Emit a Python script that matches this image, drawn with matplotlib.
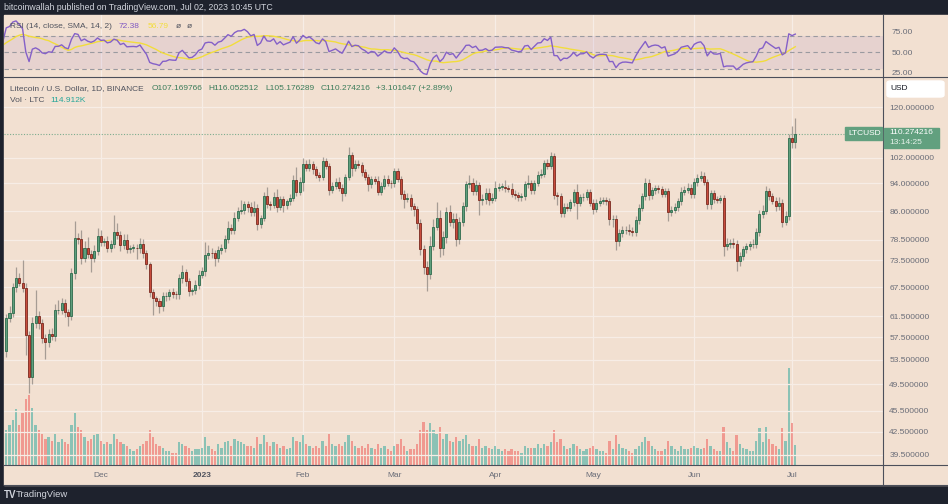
import numpy as np
import pandas as pd
import matplotlib
matplotlib.use("Agg")
import matplotlib.pyplot as plt
from matplotlib.lines import Line2D
from matplotlib.patches import Rectangle, FancyBboxPatch

plt.rcParams['font.family'] = ['Liberation Sans', 'DejaVu Sans']

# ---- data (LTC/USD daily, Nov 2 2022 .. Jul 2 2023) ----
# closes before the visible window, only used to warm up the RSI
warmup_closes = [52.0, 51.5, 52.8, 52.3, 51.8, 51.4, 51.2, 51.6, 51.0, 50.6,
                 51.4, 50.9, 51.7, 52.0, 51.4, 50.7, 50.5, 51.3, 51.9, 51.6,
                 53.1, 53.6, 53.4, 52.9, 54.0, 54.6, 53.8, 54.2, 55.6, 55.0]

closes = [61.1, 62.2, 67.5, 69.4, 68.5, 67.4, 57.9, 50.6, 60.2, 61.5,
          60.1, 57.4, 56.7, 58.2, 57.8, 62.7, 62.8, 64.1, 62.3, 61.6,
          70.7, 79.1, 78.6, 74.2, 76.6, 75.0, 74.2, 75.8, 79.6, 78.0,
          78.3, 76.6, 77.4, 80.4, 79.8, 77.3, 78.4, 76.3, 76.5, 76.6,
          76.4, 77.6, 75.2, 72.6, 66.4, 65.2, 64.6, 63.6, 65.6, 65.7,
          66.4, 66.1, 66.0, 69.5, 70.8, 68.8, 66.6, 66.8, 68.0, 70.2,
          71.0, 74.8, 75.3, 75.2, 74.1, 76.0, 76.6, 78.8, 81.6, 81.0,
          84.3, 86.2, 86.3, 88.0, 87.2, 85.8, 87.0, 82.6, 84.3, 90.4,
          88.0, 87.8, 90.0, 87.3, 89.4, 87.7, 88.8, 89.8, 95.0, 91.5,
          94.4, 100.2, 98.7, 100.0, 98.5, 96.6, 96.0, 100.9, 99.3, 92.2,
          93.4, 94.6, 92.8, 91.3, 96.0, 102.9, 98.7, 100.2, 99.8, 97.4,
          96.0, 93.8, 95.3, 94.8, 91.6, 93.4, 95.5, 94.2, 94.1, 97.7,
          95.4, 91.0, 89.5, 89.8, 87.4, 86.6, 82.8, 76.3, 71.9, 70.3,
          77.0, 81.9, 84.3, 76.4, 79.2, 85.8, 83.0, 84.0, 78.6, 83.0,
          87.5, 93.8, 94.2, 91.7, 93.5, 89.3, 89.5, 91.2, 89.2, 89.8,
          92.8, 93.0, 93.1, 92.6, 92.5, 91.0, 90.5, 89.9, 90.3, 93.8,
          94.2, 92.0, 94.2, 96.7, 97.0, 100.3, 99.5, 102.5, 90.5, 90.3,
          85.5, 87.3, 87.0, 88.6, 91.4, 88.4, 90.0, 90.1, 91.4, 88.4,
          86.7, 88.4, 89.0, 89.1, 88.8, 83.8, 83.9, 78.1, 80.2, 81.0,
          81.1, 80.7, 80.4, 83.6, 87.0, 90.2, 94.2, 90.6, 92.0, 92.6,
          92.3, 90.9, 91.8, 85.8, 86.5, 87.2, 88.8, 91.6, 92.2, 92.8,
          90.8, 94.4, 95.8, 96.4, 94.5, 88.1, 91.2, 89.4, 89.2, 89.7,
          77.1, 77.6, 77.6, 77.5, 73.3, 74.6, 76.2, 77.0, 77.4, 77.6,
          80.5, 85.3, 86.2, 91.8, 90.3, 88.9, 87.5, 88.4, 83.2, 84.7,
          108.7, 107.169766, 110.274216]

# distance from body top to high / body bottom to low
upper_wick = [0.8, 1.4, 1.0, 2.6, 1.2, 5.0, 1.0, 0.8, 1.2, 5.3,
              1.0, 0.8, 0.8, 0.9, 1.0, 1.3, 2.0, 1.2, 0.8, 0.6,
              1.0, 4.3, 1.2, 2.5, 1.5, 2.6, 1.0, 1.5, 2.0, 1.4,
              0.8, 1.2, 1.0, 4.6, 2.5, 1.0, 1.6, 1.5, 0.8, 1.0,
              0.8, 1.5, 1.2, 0.8, 0.6, 0.7, 0.5, 0.6, 0.9, 0.8,
              0.8, 1.0, 0.6, 1.0, 1.6, 0.8, 0.6, 0.6, 1.0, 1.0,
              1.0, 3.2, 2.0, 1.2, 0.8, 1.0, 0.8, 0.9, 1.9, 1.0,
              1.5, 1.0, 3.0, 1.0, 1.0, 1.5, 2.0, 1.0, 0.8, 1.2,
              2.5, 1.0, 1.5, 2.5, 1.0, 1.0, 0.8, 1.0, 1.5, 4.0,
              1.5, 1.8, 1.2, 1.5, 1.0, 1.0, 1.0, 1.5, 1.0, 1.0,
              1.2, 1.2, 1.5, 1.0, 1.0, 2.6, 1.0, 1.0, 1.0, 1.0,
              1.2, 1.0, 1.0, 1.0, 1.5, 1.0, 1.0, 1.0, 1.0, 1.2,
              1.0, 1.0, 1.0, 1.5, 1.0, 1.0, 0.8, 1.0, 1.0, 1.5,
              2.5, 2.0, 4.4, 2.0, 1.5, 1.5, 2.0, 1.5, 1.5, 1.5,
              1.2, 1.0, 2.5, 1.5, 1.5, 1.0, 1.5, 1.5, 1.5, 1.5,
              2.0, 1.0, 1.0, 2.0, 1.0, 1.5, 1.0, 1.0, 1.0, 1.0,
              2.5, 1.0, 1.0, 1.0, 1.5, 1.0, 1.5, 1.3, 1.0, 1.0,
              1.0, 1.0, 1.0, 1.0, 1.0, 2.5, 1.0, 1.0, 1.0, 1.0,
              1.0, 1.0, 1.0, 1.0, 1.0, 1.0, 1.0, 1.0, 1.0, 1.0,
              1.0, 1.5, 1.0, 1.0, 1.0, 1.0, 1.5, 1.2, 1.0, 1.0,
              1.0, 1.0, 1.0, 1.0, 1.0, 1.0, 1.0, 1.5, 1.0, 1.5,
              1.0, 1.2, 1.0, 1.5, 1.0, 1.0, 1.0, 1.0, 1.0, 1.0,
              1.0, 1.5, 1.0, 1.5, 1.0, 1.0, 0.8, 0.8, 0.8, 1.0,
              1.0, 1.0, 1.5, 1.5, 1.0, 1.0, 1.0, 1.5, 1.0, 1.5,
              1.5, 4.4, 5.778]

lower_wick = [1.0, 0.8, 0.8, 1.0, 0.8, 1.0, 3.5, 2.4, 1.0, 1.0,
              1.0, 1.0, 3.0, 1.0, 0.8, 1.0, 0.8, 0.8, 1.0, 2.0,
              0.8, 1.5, 1.0, 1.5, 1.0, 1.0, 3.3, 1.0, 1.0, 1.0,
              1.0, 1.0, 1.0, 1.0, 1.0, 1.5, 1.0, 1.0, 1.0, 1.0,
              2.5, 1.0, 1.0, 1.0, 1.0, 3.4, 1.0, 1.5, 1.0, 1.0,
              1.0, 1.0, 1.0, 1.0, 1.0, 1.0, 1.0, 0.8, 0.8, 0.8,
              0.8, 1.0, 1.0, 1.0, 1.8, 1.0, 1.0, 1.0, 1.0, 1.0,
              1.0, 1.0, 1.0, 1.0, 1.5, 1.2, 1.0, 1.5, 1.0, 1.0,
              1.0, 1.5, 1.0, 1.5, 1.0, 2.0, 1.0, 1.0, 1.0, 1.2,
              1.0, 2.5, 1.0, 1.0, 1.5, 1.0, 1.2, 1.0, 1.0, 1.5,
              1.0, 1.0, 1.0, 2.5, 1.0, 1.0, 2.5, 1.0, 1.0, 1.0,
              1.0, 2.0, 1.0, 1.0, 1.0, 1.0, 1.0, 1.0, 1.5, 1.0,
              1.0, 1.5, 2.5, 1.0, 1.0, 2.0, 1.5, 1.5, 1.5, 3.7,
              1.0, 1.0, 1.0, 2.0, 1.5, 1.5, 1.0, 1.5, 1.5, 1.0,
              1.0, 1.5, 1.0, 1.0, 1.0, 4.3, 1.5, 1.5, 1.5, 1.0,
              1.0, 1.0, 1.0, 1.0, 1.0, 1.0, 1.0, 1.0, 1.0, 1.0,
              1.0, 1.0, 1.0, 1.0, 1.0, 1.0, 1.0, 1.0, 1.0, 2.5,
              1.0, 1.0, 1.0, 1.0, 1.0, 4.4, 1.0, 1.0, 1.0, 1.0,
              1.5, 1.0, 1.0, 1.0, 1.0, 1.5, 2.0, 2.0, 1.0, 1.0,
              1.0, 1.0, 1.0, 1.0, 1.0, 1.0, 1.0, 1.5, 1.0, 1.0,
              1.0, 1.0, 1.0, 2.5, 1.0, 1.0, 1.0, 1.0, 1.0, 1.0,
              1.0, 1.0, 1.0, 1.0, 1.0, 1.5, 1.5, 1.0, 1.0, 1.0,
              2.5, 1.0, 1.0, 1.0, 2.3, 1.0, 1.0, 1.0, 1.0, 1.0,
              1.0, 1.0, 1.0, 1.0, 1.0, 1.0, 1.5, 1.0, 1.5, 1.0,
              1.0, 2.0, 1.993]

# volume in thousands of LTC
volume_k = [200, 230, 260, 320, 230, 300, 380, 400, 330, 230,
            200, 180, 150, 160, 140, 180, 130, 150, 130, 120,
            230, 300, 220, 200, 160, 140, 150, 170, 180, 140,
            120, 130, 120, 180, 150, 130, 120, 110, 90, 80,
            90, 110, 120, 140, 200, 160, 120, 110, 100, 80,
            80, 70, 70, 130, 120, 110, 100, 80, 90, 90,
            100, 160, 110, 90, 80, 120, 100, 130, 140, 110,
            150, 140, 130, 120, 110, 110, 100, 160, 120, 170,
            130, 110, 130, 120, 100, 110, 90, 100, 160, 140,
            130, 170, 120, 110, 100, 110, 100, 140, 110, 180,
            120, 110, 120, 110, 130, 170, 140, 110, 100, 110,
            100, 120, 100, 90, 120, 100, 110, 90, 80, 110,
            120, 150, 110, 80, 90, 90, 120, 200, 250, 200,
            240, 200, 180, 220, 150, 180, 140, 130, 160, 140,
            150, 170, 120, 110, 110, 150, 100, 110, 100, 90,
            110, 90, 80, 90, 80, 90, 80, 80, 70, 110,
            100, 100, 100, 120, 100, 120, 110, 130, 200, 130,
            150, 110, 90, 100, 120, 110, 90, 80, 90, 100,
            110, 90, 80, 80, 70, 140, 90, 170, 120, 100,
            90, 80, 70, 90, 110, 130, 160, 140, 110, 90,
            80, 80, 90, 140, 110, 90, 80, 110, 90, 90,
            100, 110, 100, 90, 100, 150, 110, 90, 80, 80,
            220, 130, 100, 80, 170, 120, 100, 90, 80, 80,
            140, 210, 130, 220, 150, 120, 110, 90, 210, 140,
            560, 240, 114.912]

month_starts = ["2022-11-01", "2022-12-01", "2023-01-01", "2023-02-01", "2023-03-01",
                "2023-04-01", "2023-05-01", "2023-06-01", "2023-07-01"]
month_labels = ["Nov", "Dec", "2023", "Feb", "Mar", "Apr", "May", "Jun", "Jul"]
price_ticks = [39.5, 42.5, 45.5, 49.5, 53.5, 57.5, 61.5, 67.5, 73.5, 78.5, 86, 94, 102, 120]
rsi_ticks = [25, 50, 75]

# ---- colours ----
BG = '#f2e0d1'
DARK = '#1e222d'
GRID = '#f7ede6'
UP, UP_EDGE = '#5f9f7d', '#2d6b4c'
DN, DN_EDGE = '#c84c3c', '#7a2a1f'
TXT = '#6a6d78'

W, H = 948, 504


def box(x0, y0, x1, y1):
    return [x0 / W, 1 - y1 / H, (x1 - x0) / W, (y1 - y0) / H]


origin = pd.Timestamp("2022-11-01")
dates = pd.date_range("2022-11-02", periods=len(closes), freq="D")
days = np.asarray((dates - origin).days, dtype=float)
month_x = [(pd.Timestamp(m) - origin).days for m in month_starts]

o = np.array([warmup_closes[-1]] + closes[:-1])
c = np.array(closes)
hi = np.maximum(o, c) + np.array(upper_wick)
lo = np.minimum(o, c) - np.array(lower_wick)
up = c >= o

# RSI(14) with Wilder smoothing and its 14 SMA
allc = pd.Series(warmup_closes + closes)
delta = allc.diff()
gain = delta.clip(lower=0).fillna(0)
loss = (-delta).clip(lower=0).fillna(0)
avg_g = gain.ewm(alpha=1 / 14, adjust=False).mean()
avg_l = loss.ewm(alpha=1 / 14, adjust=False).mean()
rsi = 100 - 100 / (1 + avg_g / avg_l)
rsi_ma = rsi.rolling(14).mean()
rsi_x = np.arange(len(allc)) - (len(warmup_closes) - 1)

fig = plt.figure(figsize=(W / 100, H / 100), dpi=100, facecolor=DARK)
fig.patches.append(Rectangle((4 / W, 1 - 485 / H), 944 / W, 470 / H,
                             transform=fig.transFigure, color=BG, zorder=-10))

xlim = (0.31, 269.9)

# ---- main pane: volume underneath, price on top ----
ax_vol = fig.add_axes(box(4, 77, 883, 465))
ax_vol.set_facecolor(BG)
ax_vol.bar(days, volume_k, width=0.7,
           color=np.where(up, '#26a69a', '#ef5350'), alpha=0.5, linewidth=0)
ax_vol.set_ylim(0, 2230)
ax_vol.set_yticks([])
ax_vol.set_xlim(*xlim)
ax_vol.set_xticks(month_x[1:])
ax_vol.set_xticklabels(month_labels[1:])
ax_vol.tick_params(axis='x', length=0, pad=5, labelsize=6, colors=TXT)
ax_vol.get_xticklabels()[1].set_fontweight('bold')
ax_vol.get_xticklabels()[1].set_color('#50535e')
ax_vol.grid(axis='x', color=GRID, lw=0.9)
ax_vol.set_axisbelow(True)

ax = ax_vol.twinx()
ax.set_yscale('log')
ax.set_ylim(38.24, 132.1)
ax.set_xlim(*xlim)
for y in price_ticks:
    ax.axhline(y, color=GRID, lw=0.9, zorder=0)
ax.vlines(days, lo, hi, color='#8d8680', lw=0.9, alpha=0.75, zorder=2)
body = np.maximum(np.abs(c - o), 0.12)
ax.bar(days, body, bottom=np.minimum(o, c), width=0.62,
       color=np.where(up, UP, DN), edgecolor=np.where(up, UP_EDGE, DN_EDGE),
       linewidth=0.6, zorder=3)
ax.axhline(closes[-1], color='#5f9f7d', lw=0.8, ls=(0, (1, 1.5)), alpha=0.8, zorder=1)
ax.set_yticks(price_ticks)
ax.set_yticklabels([f"{v:.6f}" for v in price_ticks])
ax.yaxis.set_minor_locator(matplotlib.ticker.NullLocator())
ax.tick_params(axis='y', length=0, pad=4.5, labelsize=6, colors=TXT)
for a in (ax, ax_vol):
    for s in a.spines.values():
        s.set_visible(False)

# ---- RSI pane ----
ax_r = fig.add_axes(box(4, 15, 883, 77))
ax_r.set_facecolor(BG)
ax_r.set_xlim(*xlim)
ax_r.set_ylim(20, 95.3)
ax_r.axhspan(30, 70, color='#7e57c2', alpha=0.1, lw=0)
for lvl in (70, 50, 30):
    ax_r.axhline(lvl, color='#9a9aa0', lw=0.8, ls=(0, (4, 3)))
ax_r.plot(rsi_x, rsi_ma, color='#f2dd3c', lw=1.0)
ax_r.plot(rsi_x, rsi, color='#8460c8', lw=1.0)
ax_r.set_xticks(month_x[1:])
ax_r.set_xticklabels([])
ax_r.grid(axis='x', color=GRID, lw=0.9)
ax_r.set_axisbelow(True)
ax_r.yaxis.tick_right()
ax_r.set_yticks(rsi_ticks)
ax_r.set_yticklabels([f"{v:.2f}" for v in rsi_ticks])
ax_r.tick_params(axis='y', length=0, pad=6, labelsize=6, colors=TXT)
ax_r.tick_params(axis='x', length=0)
for s in ax_r.spines.values():
    s.set_visible(False)

# ---- frame lines ----
for (x0, y0, x1, y1) in [(4, 77, 948, 77), (4, 465, 948, 465), (883, 15, 883, 485),
                         (4, 484.5, 948, 484.5)]:
    fig.add_artist(Line2D([x0 / W, x1 / W], [1 - y0 / H, 1 - y1 / H],
                          color='#4c4f5a', lw=0.8))


def ftext(x, y, s, **kw):
    kw.setdefault('fontsize', 6)
    kw.setdefault('va', 'center')
    return fig.text(x / W, 1 - y / H, s, **kw)


# header bar and footer
ftext(4, 7, "bitcoinwallah published on TradingView.com, Jul 02, 2023 10:45 UTC",
      color='#d1d4dc', fontsize=6.3)
ftext(4, 494.5, "TV", color='#d1d4dc', fontsize=7, fontweight='bold')
ftext(16, 494.5, "TradingView", color='#d1d4dc', fontsize=6.8)

# RSI legend
ftext(10, 26, "RSI (14, close, SMA, 14, 2)", color='#50535e')
ftext(119, 26, "72.38", color='#7e57c2')
ftext(148, 26, "56.79", color='#f2dd3c')
ftext(176, 26, "ø", color='#50535e')
ftext(187, 26, "ø", color='#50535e')

# price legend
ftext(10, 89, "Litecoin / U.S. Dollar, 1D, BINANCE", color='#50535e')
green_txt = '#3b7c5a'
ftext(152, 89, "O107.169766", color=green_txt)
ftext(208, 89, "H116.052512", color=green_txt)
ftext(265, 89, "L105.176289", color=green_txt)
ftext(321, 89, "C110.274216", color=green_txt)
ftext(376, 89, "+3.101647 (+2.89%)", color=green_txt)
ftext(10, 101, "Vol · LTC", color='#50535e')
ftext(50, 101, "114.912K", color='#26a69a')

# axis badges
fig.patches.append(FancyBboxPatch((887 / W, 1 - 97 / H), 57 / W, 16 / H,
                                  boxstyle="round,pad=0,rounding_size=0.004",
                                  transform=fig.transFigure, color='white', zorder=5))
ftext(890, 89, "USD", color='#131722', zorder=6)
fig.patches.append(Rectangle((845 / W, 1 - 139.5 / H), 37 / W, 12 / H,
                             transform=fig.transFigure, color='#62a07f', zorder=5))
ftext(848, 133.5, "LTCUSD", color='white', zorder=6)
fig.patches.append(Rectangle((884 / W, 1 - 148 / H), 55 / W, 20 / H,
                             transform=fig.transFigure, color='#62a07f', zorder=5))
ftext(889, 133, "110.274216", color='white', zorder=6)
ftext(889, 142.5, "13:14:25", color='#e6f2ea', zorder=6)

fig.savefig("out.png", dpi=100, facecolor=DARK)
